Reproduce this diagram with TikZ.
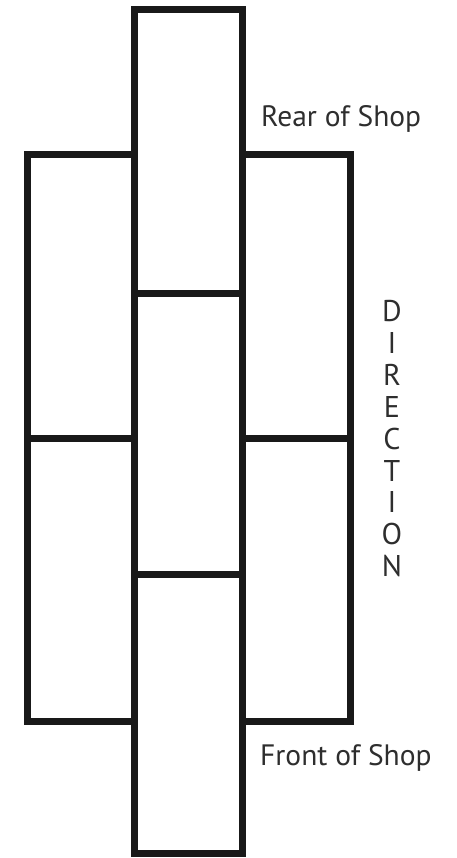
\documentclass[tikz,border=0pt]{standalone}
\usepackage{fontspec}
\setmainfont{PT Sans}
\begin{document}
\begin{tikzpicture}[x=1pt,y=1pt,
  wall/.style={draw=black!90,line width=7pt,line join=miter},
  lbl/.style={text=black!82,font=\fontsize{29.5}{30}\selectfont,inner sep=0pt},
  dirl/.style={text=black!82,font=\fontsize{30}{30}\selectfont,inner sep=0pt}]
\useasboundingbox (0,0) rectangle (457,-858);
% side columns
\draw[wall] (27,-155) rectangle (134,-721);
\draw[wall] (242,-155) rectangle (350,-721);
\draw[wall] (27,-438) -- (134,-438);
\draw[wall] (242,-438) -- (350,-438);
% central column
\draw[wall,fill=white] (134,-10) rectangle (242,-853);
\draw[wall] (134,-293.5) -- (242,-293.5);
\draw[wall] (134,-574) -- (242,-574);
% labels
\node[lbl,anchor=base west] (rear) at (261,-127) {Rear of Shop};
\node[lbl,anchor=base west] (front) at (260,-765) {Front of Shop};
\foreach \c [count=\i] in {D,I,R,E,C,T,I,O,N}
  \node[dirl,anchor=base] (dir\i) at (392,{-321.5-31.9*(\i-1)}) {\c};
\end{tikzpicture}
\end{document}
